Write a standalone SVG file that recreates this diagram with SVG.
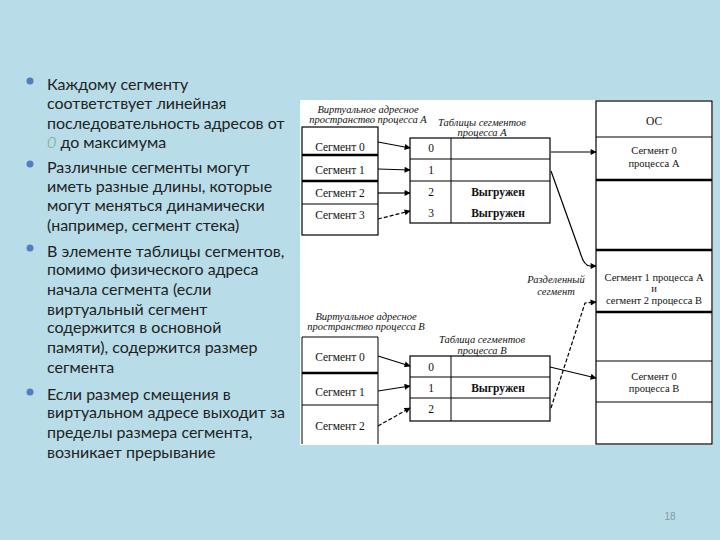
<svg xmlns="http://www.w3.org/2000/svg" width="720" height="540" viewBox="0 0 720 540">
<defs>
<style>
.bt{font-family:Lato,"Open Sans","DejaVu Sans",sans-serif;font-size:16px;fill:#222;}
.s{font-family:"Liberation Serif","Times New Roman",serif;font-size:11.5px;fill:#111;}
.m{font-size:10.5px;}
.c{text-anchor:middle;}
.b{font-weight:bold;}
.it{font-family:"Liberation Serif","Times New Roman",serif;font-size:10.5px;font-style:italic;fill:#111;text-anchor:middle;}
.box{fill:#fff;stroke:#000;stroke-width:1.2;}
.ln{stroke:#000;stroke-width:1;fill:none;}
.tk{stroke:#000;stroke-width:2.5;fill:none;}
.ar{stroke:#000;stroke-width:1.2;fill:none;marker-end:url(#ah);}
.dash{stroke-dasharray:4 2;}
</style>
<marker id="ah" viewBox="0 0 10 10" refX="9" refY="5" markerWidth="7" markerHeight="6" markerUnits="userSpaceOnUse" orient="auto">
<path d="M0,0 L10,5 L0,10 z" fill="#000"/>
</marker>
</defs>
<rect x="0" y="0" width="720" height="540" fill="#b8dce8"/>

<g id="bullets">
<circle cx="30" cy="81" r="3.5" fill="#4f7fc0"/>
<circle cx="30" cy="164" r="3.5" fill="#4f7fc0"/>
<circle cx="30" cy="248" r="3.5" fill="#4f7fc0"/>
<circle cx="30" cy="392" r="3.5" fill="#4f7fc0"/>
</g>
<g id="text">
<text class="bt" x="47" y="90">Каждому сегменту</text>
<text class="bt" x="47" y="109">соответствует линейная</text>
<text class="bt" x="47" y="129">последовательность адресов от</text>
<text class="bt" x="47" y="148"><tspan fill="#6aa86a" font-style="italic" font-weight="300">0</tspan> до максимума</text>
<text class="bt" x="47" y="173">Различные сегменты могут</text>
<text class="bt" x="47" y="192">иметь разные  длины, которые</text>
<text class="bt" x="47" y="211">могут меняться динамически</text>
<text class="bt" x="47" y="231">(например, сегмент стека)</text>
<text class="bt" x="47" y="257">В элементе таблицы сегментов,</text>
<text class="bt" x="47" y="275">помимо физического адреса</text>
<text class="bt" x="47" y="295">начала сегмента (если</text>
<text class="bt" x="47" y="315">виртуальный сегмент</text>
<text class="bt" x="47" y="333">содержится в основной</text>
<text class="bt" x="47" y="353">памяти), содержится размер</text>
<text class="bt" x="47" y="373">сегмента</text>
<text class="bt" x="47" y="400">Если размер смещения в</text>
<text class="bt" x="47" y="418">виртуальном адресе выходит за</text>
<text class="bt" x="47" y="438">пределы размера сегмента,</text>
<text class="bt" x="47" y="458">возникает прерывание</text>
</g>
<text x="670" y="520" font-family="'Liberation Sans',Arial,sans-serif" font-size="10" fill="#8a9aa4" text-anchor="middle">18</text>

<rect x="300" y="100" width="413" height="345" fill="#fff"/>

<g id="memory">
<rect class="box" x="596" y="101" width="116" height="343"/>
<line class="ln" x1="596" y1="137" x2="712" y2="137"/>
<line class="tk" x1="596" y1="180" x2="712" y2="180"/>
<line class="tk" x1="596" y1="250" x2="712" y2="250"/>
<line class="tk" x1="596" y1="312" x2="712" y2="312"/>
<line class="ln" x1="596" y1="361" x2="712" y2="361"/>
<line class="ln" x1="596" y1="402" x2="712" y2="402"/>
<text class="s c" x="654" y="125">ОС</text>
<text class="s c m" x="654" y="154">Сегмент 0</text>
<text class="s c m" x="654" y="167">процесса А</text>
<text class="s c m" x="654" y="281">Сегмент 1 процесса А</text>
<text class="s c m" x="654" y="292">и</text>
<text class="s c m" x="654" y="304">сегмент 2 процесса В</text>
<text class="s c m" x="654" y="380">Сегмент 0</text>
<text class="s c m" x="654" y="392">процесса В</text>
</g>

<g id="vspaceA">
<text class="it" x="368" y="113">Виртуальное адресное</text>
<text class="it" x="368" y="123">пространство процесса А</text>
<rect class="box" x="302" y="127" width="76" height="108"/>
<line class="tk" x1="302" y1="155" x2="378" y2="155"/>
<line class="tk" x1="302" y1="181" x2="378" y2="181"/>
<line class="ln" x1="302" y1="204" x2="378" y2="204"/>
<text class="s c" x="340" y="151">Сегмент 0</text>
<text class="s c" x="340" y="174">Сегмент 1</text>
<text class="s c" x="340" y="197">Сегмент 2</text>
<text class="s c" x="340" y="219">Сегмент 3</text>
</g>

<g id="tableA">
<text class="it" x="482" y="126">Таблицы сегментов</text>
<text class="it" x="482" y="136">процесса А</text>
<rect class="box" x="410" y="138" width="140" height="85"/>
<line class="ln" x1="451" y1="138" x2="451" y2="223"/>
<line class="ln" x1="410" y1="159" x2="550" y2="159"/>
<line class="ln" x1="410" y1="181" x2="550" y2="181"/>
<text class="s c" x="431" y="152">0</text>
<text class="s c" x="431" y="174">1</text>
<text class="s c" x="431" y="196">2</text>
<text class="s c" x="431" y="217">3</text>
<text class="s c b" x="498" y="196">Выгружен</text>
<text class="s c b" x="498" y="217">Выгружен</text>
</g>

<g id="vspaceB">
<text class="it" x="366" y="320">Виртуальное адресное</text>
<text class="it" x="366" y="330">пространство процесса В</text>
<path class="ln" d="M302,444 V337 H378 V444" stroke-width="1.2"/>
<line class="tk" x1="302" y1="373" x2="378" y2="373"/>
<line class="ln" x1="302" y1="405" x2="378" y2="405"/>
<text class="s c" x="340" y="361">Сегмент 0</text>
<text class="s c" x="340" y="396">Сегмент 1</text>
<text class="s c" x="340" y="430">Сегмент 2</text>
</g>

<g id="tableB">
<text class="it" x="482" y="343">Таблица сегментов</text>
<text class="it" x="482" y="354">процесса В</text>
<rect class="box" x="410" y="356" width="140" height="65"/>
<line class="ln" x1="451" y1="356" x2="451" y2="421"/>
<line class="ln" x1="410" y1="377" x2="550" y2="377"/>
<line class="ln" x1="410" y1="398" x2="550" y2="398"/>
<text class="s c" x="431" y="371">0</text>
<text class="s c" x="431" y="392">1</text>
<text class="s c" x="431" y="413">2</text>
<text class="s c b" x="498" y="392">Выгружен</text>
</g>

<g id="shared-label">
<text class="it" x="556" y="283">Разделенный</text>
<text class="it" x="556" y="295">сегмент</text>
</g>

<g id="connectors">
<path class="ar" d="M378,142 L410,148"/>
<path class="ar" d="M378,169 L410,170"/>
<path class="ar" d="M378,193 L410,193"/>
<path class="ar dash" d="M378,219 L410,211"/>
<path class="ar" d="M551,152 L596,152"/>
<path class="ar" d="M551,171 L580,252 Q584,266 590,266 L596,266" stroke-width="1.6"/>
<path class="ar" d="M378,356 L410,366" stroke-width="1.6"/>
<path class="ar" d="M378,391 L410,386"/>
<path class="ar dash" d="M378,426 L410,408"/>
<path class="ar" d="M550,367 L596,378" stroke-width="1.8"/>
<path class="ar dash" d="M551,408 L585,303 L596,302" stroke-width="1"/>
</g>
</svg>
